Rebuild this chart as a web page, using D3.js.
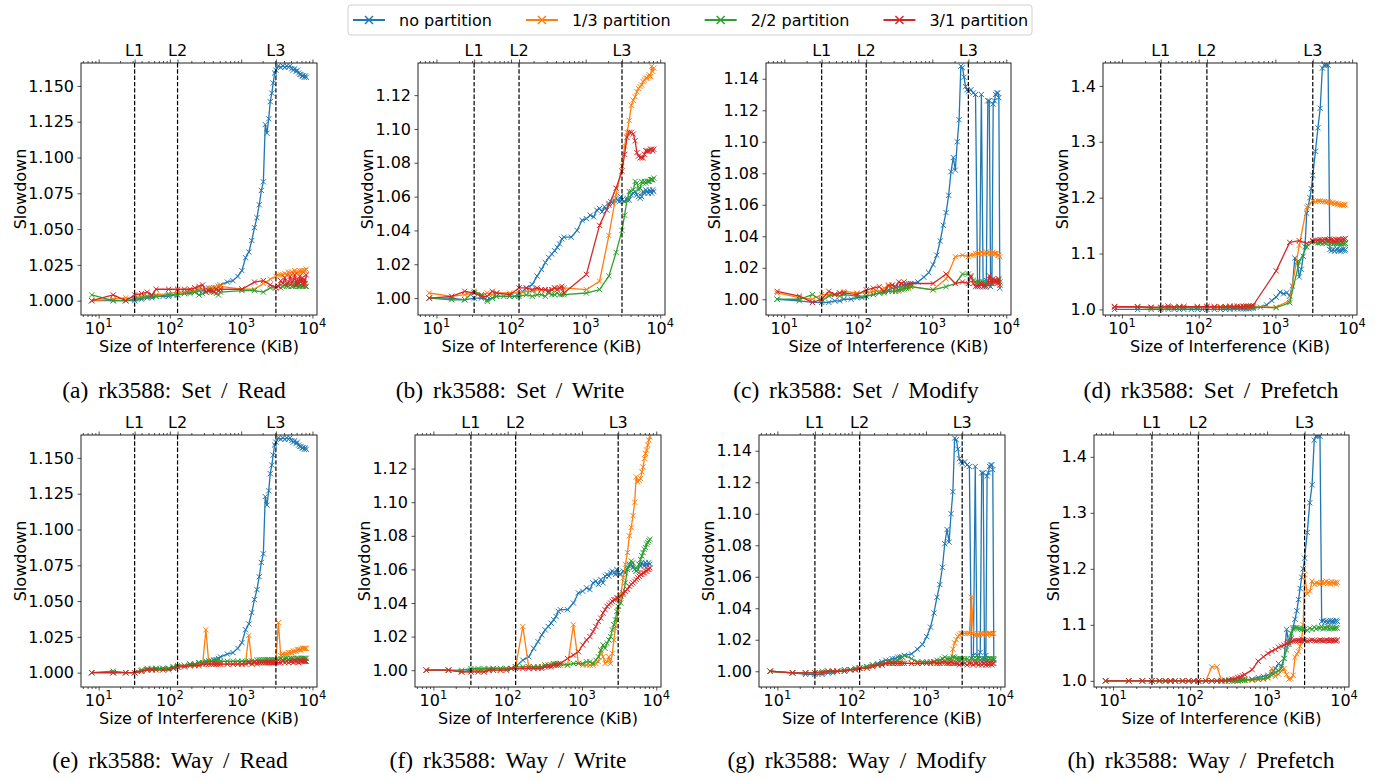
<!DOCTYPE html>
<html><head><meta charset="utf-8">
<script src="https://cdn.jsdelivr.net/npm/d3@7"></script>
<style>body{margin:0;background:#fff}svg{display:block}</style>
</head><body>
<svg id="chart" width="1380" height="781"></svg>
<script>
// ---------------- DATA ----------------
const xDense = [8,16,24,32,40,48,56,64,80,96,112,128,160,192,224,256,288,320,352,384,416,448,480,512,640,768,896,
 1024,1152,1280,1408,1536,1664,1792,1920,2048,2176,2304,2432,2560,2688,2816,2944,3072,
 3328,3584,3840,4096,4352,4608,4864,5120,5376,5632,5888,6144,6400,6656,6912,7168,7424,7680,7936,8192];
const xSparse = [8,16,24,32,40,48,56,64,96,128,160,192,224,256,288,320,352,384,416,448,480,512,
 1024,1536,2048,2560,3072,
 3328,3584,3840,4096,4352,4608,4864,5120,5376,5632,5888,6144,6400,6656,6912,7168,7424,7680,7936,8192];

const seriesNames = ["no partition","1/3 partition","2/2 partition","3/1 partition"];
const cacheLabels = ["L1","L2","L3"];
const cacheSizes = [32,128,3072];
const xTickValues = [10,100,1000,10000];

// (a) Set / Read
const setReadNone = [1.000,1.000,1.000,1.000,1.001,1.002,1.002,1.003,
 1.003,1.003,1.004,1.004,
 1.005,1.006,1.006,1.007,1.007,1.008,1.008,1.008,1.009,1.009,1.010,1.011,
 1.013,1.014,1.017,
 1.021,1.030,1.034,1.042,1.051,1.058,1.067,1.077,1.083,1.123,1.117,1.127,1.139,1.145,1.152,1.159,1.161,
 1.164,1.163,1.164,1.163,1.164,1.163,1.164,1.162,1.161,1.162,1.160,1.161,1.159,1.158,1.158,1.157,1.157,1.156,1.157,1.156];
const setReadP13 = [1.000,1.001,1.002,1.002,1.003,1.003,1.004,1.004,
 1.005,1.006,
 1.006,1.007,1.007,1.008,1.008,1.008,1.009,1.009,1.009,1.009,1.010,1.010,
 1.008,1.008,1.012,1.015,
 1.017,
 1.018,1.018,1.018,1.019,1.018,1.020,1.019,1.020,1.019,1.021,1.019,1.020,1.020,1.021,1.020,1.021,1.020,1.021,1.021,1.022];
const setReadP22 = [1.004,1.000,1.000,1.001,1.002,1.003,1.003,1.003,
 1.004,1.004,
 1.005,1.005,1.006,1.004,1.005,1.006,1.007,1.006,1.006,1.005,1.004,1.006,
 1.007,1.007,1.006,1.009,
 1.009,
 1.010,1.009,1.010,1.011,1.010,1.010,1.011,1.010,1.010,1.011,1.010,1.011,1.010,1.010,1.011,1.010,1.010,1.011,1.010,1.010];
const setReadP31 = [1.000,1.004,1.000,1.004,1.005,1.006,1.004,1.008,
 1.008,1.008,
 1.008,1.008,1.009,1.010,1.011,1.006,1.007,1.007,1.006,1.008,1.007,1.008,
 1.008,1.013,1.014,1.011,
 1.009,
 1.010,1.014,1.012,1.016,1.011,1.013,1.017,1.012,1.014,1.018,1.011,1.015,1.012,1.017,1.013,1.016,1.011,1.015,1.012,1.018];

// (b) Set / Write
const setWriteNone = [1.000,1.000,0.999,1.000,1.000,0.999,1.000,1.001,
 1.001,1.001,1.001,1.002,
 1.006,1.008,1.013,1.017,1.021,1.024,1.026,1.028,1.030,1.032,1.035,1.036,
 1.036,1.040,1.046,
 1.047,1.049,1.048,1.052,1.053,1.051,1.054,1.052,1.056,1.057,1.056,1.058,1.059,1.058,1.057,1.060,1.058,
 1.057,1.059,1.058,1.061,1.062,1.063,1.061,1.060,1.059,1.060,1.063,1.062,1.064,1.063,1.062,1.064,1.063,1.062,1.064,1.063];
const setWriteP13 = [1.003,1.001,1.002,1.003,1.002,1.003,1.002,1.003,
 1.003,1.003,
 1.004,1.004,1.005,1.005,1.005,1.005,1.005,1.006,1.006,1.006,1.006,1.006,
 1.005,1.010,1.037,1.061,
 1.078,
 1.090,1.098,1.105,1.114,1.117,1.119,1.122,1.124,1.125,1.126,1.128,1.129,1.130,1.130,1.131,1.132,1.131,1.137,1.134,1.136];
const setWriteP22 = [1.000,0.999,0.999,1.004,1.002,0.998,1.000,1.001,
 1.001,1.001,
 1.002,1.001,1.002,1.002,1.001,1.003,1.002,1.002,1.003,1.002,1.002,1.002,
 1.003,1.005,1.013,1.027,
 1.040,
 1.049,1.058,1.063,1.063,1.064,1.069,1.068,1.064,1.065,1.069,1.068,1.069,1.068,1.069,1.069,1.069,1.070,1.070,1.070,1.071];
const setWriteP31 = [1.000,1.001,1.004,1.003,1.001,1.001,1.004,1.003,
 1.002,1.006,
 1.006,1.005,1.006,1.005,1.005,1.004,1.005,1.006,1.005,1.006,1.007,1.003,
 1.014,1.043,1.055,1.065,
 1.075,
 1.085,1.095,1.098,1.098,1.097,1.093,1.086,1.084,1.083,1.083,1.083,1.085,1.087,1.087,1.087,1.087,1.088,1.088,1.087,1.088];

// (c) Set / Modify
const setModNone = [1.000,0.999,0.998,0.998,0.998,0.999,0.999,1.000,
 1.000,1.001,1.001,1.002,
 1.003,1.004,1.005,1.006,1.007,1.007,1.008,1.008,1.009,1.009,1.009,1.010,
 1.011,1.014,1.017,
 1.022,1.028,1.037,1.047,1.055,1.066,1.081,1.090,1.082,1.100,1.114,1.148,1.147,1.141,1.135,1.133,1.132,
 1.133,1.131,1.130,1.008,1.010,1.130,1.010,1.008,1.012,1.126,1.126,1.008,1.010,1.124,1.126,1.130,1.131,1.131,1.128,1.007];
const setModP13 = [1.004,1.001,1.000,1.003,1.003,1.003,1.004,1.005,
 1.004,1.004,
 1.005,1.005,1.007,1.008,1.009,1.006,1.005,1.007,1.006,1.007,1.008,1.008,
 1.006,1.013,1.027,1.028,
 1.027,
 1.028,1.028,1.029,1.029,1.029,1.030,1.029,1.029,1.030,1.029,1.030,1.029,1.029,1.030,1.029,1.029,1.029,1.028,1.028,1.027];
const setModP22 = [1.000,1.000,1.003,0.999,1.002,1.003,1.002,1.003,
 1.002,1.002,
 1.003,1.004,1.004,1.005,1.005,1.005,1.006,1.006,1.007,1.007,1.007,1.008,
 1.006,1.008,1.010,1.016,
 1.016,
 1.014,1.012,1.011,1.011,1.011,1.010,1.011,1.010,1.011,1.010,1.011,1.010,1.012,1.011,1.011,1.012,1.011,1.011,1.012,1.011];
const setModP31 = [1.005,1.002,0.998,1.000,1.005,1.003,1.004,1.004,
 1.003,1.006,
 1.007,1.008,1.005,1.009,1.009,1.008,1.011,1.010,1.011,1.009,1.010,1.010,
 1.010,1.016,1.010,1.011,
 1.010,
 1.015,1.010,1.008,1.009,1.008,1.010,1.008,1.009,1.008,1.009,1.015,1.012,1.010,1.013,1.012,1.011,1.012,1.010,1.013,1.009];

// (d) Set / Prefetch
const setPfNone = [1.000,1.000,1.000,1.000,1.000,1.000,1.000,1.000,
 1.000,1.000,1.000,1.000,
 1.000,1.000,1.000,1.000,1.001,1.001,1.001,1.001,1.001,1.001,1.002,1.002,
 1.004,1.008,1.016,
 1.022,1.031,1.028,1.030,1.024,1.042,1.092,1.085,1.058,1.072,1.095,1.112,1.172,1.185,1.200,1.216,1.240,
 1.283,1.325,1.360,1.432,1.437,1.437,1.437,1.107,1.105,1.107,1.104,1.106,1.108,1.105,1.107,1.104,1.106,1.108,1.105,1.107];
const setPfP13 = [1.005,1.004,1.003,1.003,1.005,1.004,1.004,1.005,
 1.004,1.005,
 1.004,1.005,1.004,1.006,1.005,1.004,1.005,1.006,1.005,1.005,1.004,1.005,
 1.004,1.016,1.115,1.183,
 1.194,
 1.193,1.194,1.194,1.193,1.193,1.192,1.193,1.192,1.190,1.191,1.189,1.190,1.188,1.189,1.187,1.188,1.187,1.186,1.188,1.187];
const setPfP22 = [1.004,1.004,1.003,1.003,1.003,1.003,1.004,1.003,
 1.003,1.004,
 1.003,1.004,1.003,1.004,1.004,1.003,1.004,1.004,1.003,1.004,1.004,1.004,
 1.003,1.012,1.085,1.112,
 1.121,
 1.120,1.119,1.119,1.118,1.119,1.118,1.120,1.118,1.119,1.117,1.118,1.119,1.117,1.118,1.118,1.117,1.119,1.118,1.117,1.118];
const setPfP31 = [1.005,1.005,1.004,1.004,1.006,1.004,1.005,1.005,
 1.005,1.005,
 1.005,1.004,1.005,1.005,1.005,1.006,1.005,1.005,1.006,1.006,1.006,1.007,
 1.069,1.120,1.123,1.118,
 1.123,
 1.124,1.124,1.125,1.124,1.125,1.125,1.124,1.126,1.125,1.124,1.123,1.125,1.124,1.126,1.125,1.123,1.125,1.126,1.125,1.127];

// (e) Way / Read
const wayReadNone = setReadNone;
const wayReadP13 = [1.000,1.000,1.000,1.000,1.001,1.002,1.002,1.002,
 1.002,1.003,1.003,1.004,
 1.005,1.005,1.005,1.006,1.006,1.030,1.006,1.006,1.006,1.006,1.006,1.006,
 1.006,1.006,1.006,
 1.006,1.007,1.026,1.007,1.007,1.006,1.007,1.007,1.007,1.007,1.007,1.007,1.007,1.007,1.007,1.008,1.008,
 1.035,1.012,1.013,1.013,1.013,1.014,1.014,1.014,1.015,1.015,1.015,1.016,1.016,1.016,1.016,1.017,1.017,1.017,1.017,1.017];
const wayReadP22 = [1.000,1.001,1.000,1.000,1.002,1.003,1.003,1.003,
 1.003,1.003,1.004,1.005,
 1.005,1.006,1.006,1.007,1.007,1.007,1.008,1.008,1.008,1.009,1.009,1.008,
 1.008,1.008,1.008,
 1.008,1.008,1.008,1.008,1.008,1.009,1.009,1.009,1.009,1.009,1.009,1.009,1.009,1.009,1.009,1.009,1.009,
 1.009,1.010,1.009,1.010,1.010,1.009,1.010,1.010,1.010,1.009,1.010,1.010,1.010,1.009,1.010,1.010,1.010,1.010,1.010,1.010];
const wayReadP31 = [1.000,1.000,1.000,1.000,1.001,1.002,1.002,1.002,
 1.002,1.002,1.003,1.004,
 1.004,1.005,1.005,1.005,1.006,1.006,1.006,1.006,1.006,1.006,1.006,1.006,
 1.006,1.006,1.006,
 1.006,1.006,1.007,1.006,1.007,1.007,1.007,1.007,1.007,1.007,1.007,1.007,1.007,1.007,1.007,1.007,1.007,
 1.007,1.007,1.008,1.007,1.008,1.007,1.008,1.008,1.007,1.008,1.008,1.008,1.007,1.008,1.008,1.008,1.008,1.008,1.008,1.008];

// (f) Way / Write
const wayWriteNone = setWriteNone;
const wayWriteP13 = [1.000,1.000,0.999,0.999,1.000,1.000,1.000,1.000,
 1.000,1.001,1.001,1.002,
 1.026,1.002,1.002,1.002,1.002,1.003,1.003,1.003,1.003,1.003,1.003,1.003,
 1.003,1.027,1.004,
 1.003,1.003,1.003,1.003,1.004,1.005,1.012,1.008,1.004,1.005,1.008,1.004,1.010,1.018,1.025,1.030,1.036,
 1.045,1.055,1.063,1.070,1.080,1.085,1.092,1.100,1.115,1.112,1.113,1.114,1.118,1.121,1.126,1.129,1.131,1.134,1.137,1.139];
const wayWriteP22 = [1.000,1.000,1.000,1.001,1.001,1.001,1.001,1.001,
 1.001,1.001,1.001,1.002,
 1.002,1.002,1.002,1.002,1.002,1.003,1.003,1.003,1.004,1.004,1.004,1.004,
 1.003,1.004,1.004,
 1.004,1.005,1.005,1.004,1.006,1.008,1.012,1.015,1.013,1.016,1.018,1.020,1.024,1.027,1.030,1.035,1.038,
 1.040,1.045,1.052,1.060,1.063,1.065,1.064,1.060,1.059,1.060,1.063,1.066,1.068,1.070,1.072,1.073,1.075,1.076,1.077,1.078];
const wayWriteP31 = [1.000,1.000,0.999,0.999,0.999,0.999,1.000,1.000,
 1.000,1.000,1.001,1.001,
 1.001,1.001,1.001,1.001,1.001,1.002,1.002,1.002,1.003,1.003,1.003,1.004,
 1.007,1.009,1.011,
 1.015,1.018,1.020,1.023,1.026,1.029,1.031,1.034,1.036,1.038,1.039,1.040,1.041,1.042,1.042,1.043,1.043,
 1.044,1.046,1.047,1.048,1.050,1.051,1.052,1.053,1.054,1.055,1.056,1.057,1.057,1.058,1.058,1.059,1.059,1.060,1.060,1.061];

// (g) Way / Modify
const wayModNone = setModNone;
const wayModP13 = [1.000,0.999,0.999,0.999,0.999,1.000,1.000,1.000,
 1.001,1.001,1.001,1.002,
 1.002,1.003,1.004,1.004,1.005,1.005,1.005,1.005,1.005,1.005,1.005,1.005,
 1.005,1.005,1.005,
 1.005,1.005,1.005,1.005,1.005,1.005,1.005,1.005,1.005,1.005,1.014,1.018,1.020,1.022,1.023,1.024,1.024,
 1.024,1.024,1.024,1.047,1.024,1.023,1.023,1.023,1.024,1.024,1.023,1.024,1.024,1.023,1.024,1.024,1.024,1.023,1.024,1.024];
const wayModP22 = [1.000,0.999,0.999,0.999,1.000,1.000,1.000,1.000,
 1.001,1.001,1.002,1.002,
 1.003,1.004,1.004,1.005,1.005,1.006,1.006,1.006,1.007,1.008,1.009,1.010,
 1.008,1.006,1.006,
 1.006,1.006,1.006,1.007,1.007,1.008,1.009,1.008,1.008,1.008,1.009,1.009,1.008,1.008,1.008,1.008,1.008,
 1.008,1.008,1.007,1.008,1.008,1.007,1.008,1.008,1.007,1.008,1.008,1.007,1.008,1.008,1.007,1.008,1.008,1.007,1.008,1.008];
const wayModP31 = [1.000,0.999,0.999,0.999,0.999,1.000,1.000,1.000,
 1.000,1.001,1.001,1.002,
 1.002,1.003,1.004,1.004,1.005,1.005,1.005,1.005,1.005,1.005,1.005,1.005,
 1.005,1.005,1.005,
 1.005,1.005,1.006,1.005,1.005,1.006,1.006,1.005,1.005,1.006,1.005,1.005,1.005,1.005,1.004,1.005,1.005,
 1.005,1.004,1.005,1.005,1.004,1.005,1.005,1.004,1.005,1.004,1.005,1.005,1.004,1.005,1.004,1.005,1.005,1.004,1.005,1.005];

// (h) Way / Prefetch
const wayPfNone = [1.000,1.000,1.000,1.000,1.000,1.000,1.000,1.000,
 1.000,1.000,1.000,1.000,
 1.000,1.000,1.000,1.000,1.000,1.000,1.000,1.001,1.001,1.001,1.002,1.002,
 1.003,1.006,1.008,
 1.010,1.014,1.022,1.031,1.026,1.040,1.092,1.065,1.075,1.095,1.110,1.125,1.145,1.165,1.185,1.200,1.219,
 1.265,1.318,1.350,1.430,1.437,1.438,1.437,1.106,1.108,1.105,1.107,1.104,1.106,1.108,1.105,1.107,1.104,1.106,1.108,1.106];
const wayPfP13 = [1.000,1.000,1.000,1.000,1.000,1.000,1.000,1.000,
 1.000,1.000,1.000,1.000,
 1.000,1.025,1.025,1.001,1.000,1.000,1.000,1.001,1.000,1.001,1.001,1.001,
 1.001,1.002,1.003,
 1.005,1.022,1.008,1.012,1.018,1.022,1.011,1.003,1.004,1.010,1.042,1.048,1.052,1.062,1.075,1.100,1.190,
 1.155,1.160,1.178,1.172,1.175,1.174,1.173,1.176,1.174,1.175,1.178,1.174,1.176,1.173,1.177,1.175,1.174,1.176,1.173,1.176];
const wayPfP22 = [1.000,1.000,1.000,1.000,1.000,1.000,1.000,1.000,
 1.000,1.000,1.000,1.000,
 1.000,1.000,1.000,1.000,1.000,1.000,1.000,1.000,1.000,1.001,1.001,1.001,
 1.002,1.003,1.004,
 1.006,1.010,1.015,1.018,1.022,1.040,1.055,1.070,1.085,1.092,1.095,1.095,1.094,1.093,1.092,1.092,1.092,
 1.090,1.094,1.092,1.096,1.093,1.095,1.094,1.097,1.093,1.095,1.094,1.096,1.093,1.095,1.094,1.095,1.093,1.094,1.095,1.094];
const wayPfP31 = [1.000,1.000,1.000,1.000,1.000,1.000,1.000,1.000,
 1.000,1.000,1.000,1.000,
 1.000,1.000,1.000,1.000,1.001,1.002,1.003,1.004,1.006,1.007,1.009,1.011,
 1.020,1.035,1.043,
 1.049,1.053,1.056,1.060,1.062,1.064,1.066,1.068,1.070,1.071,1.072,1.072,1.072,1.071,1.072,1.073,1.072,
 1.071,1.072,1.073,1.072,1.071,1.072,1.073,1.072,1.071,1.072,1.073,1.072,1.071,1.072,1.073,1.072,1.073,1.072,1.071,1.073];

const captions = ["(a) rk3588: Set / Read","(b) rk3588: Set / Write","(c) rk3588: Set / Modify","(d) rk3588: Set / Prefetch",
 "(e) rk3588: Way / Read","(f) rk3588: Way / Write","(g) rk3588: Way / Modify","(h) rk3588: Way / Prefetch"];
const yTicks3 = [1.000,1.025,1.050,1.075,1.100,1.125,1.150];
const yTicksW = [1.00,1.02,1.04,1.06,1.08,1.10,1.12];
const yTicksM = [1.00,1.02,1.04,1.06,1.08,1.10,1.12,1.14];
const yTicksP = [1.0,1.1,1.2,1.3,1.4];

// ---------------- LAYOUT / STYLE ----------------
const colors = ["#1f77b4","#ff7f0e","#2ca02c","#d62728"];
const FONT = "DejaVu Sans, sans-serif";
const panels = [
 {l:81,  r:317,  t:63, b:315, yd:[0.990,1.166], yt:yTicks3, fmt:".3f", ylx:20,   capX:174,  capY:398,
  s:[[xDense,setReadNone],[xSparse,setReadP13],[xSparse,setReadP22],[xSparse,setReadP31]]},
 {l:418, r:665,  t:63, b:315, yd:[0.990,1.139], yt:yTicksW, fmt:".2f", ylx:367,  capX:510,  capY:398,
  s:[[xDense,setWriteNone],[xSparse,setWriteP13],[xSparse,setWriteP22],[xSparse,setWriteP31]]},
 {l:766, r:1011, t:63, b:315, yd:[0.990,1.150], yt:yTicksM, fmt:".2f", ylx:714,  capX:856,  capY:398,
  s:[[xDense,setModNone],[xSparse,setModP13],[xSparse,setModP22],[xSparse,setModP31]]},
 {l:1103,r:1357, t:63, b:315, yd:[0.990,1.441], yt:yTicksP, fmt:".1f", ylx:1062, capX:1211, capY:398,
  s:[[xDense,setPfNone],[xSparse,setPfP13],[xSparse,setPfP22],[xSparse,setPfP31]]},
 {l:81,  r:317,  t:435,b:687, yd:[0.990,1.166], yt:yTicks3, fmt:".3f", ylx:20,   capX:170,  capY:768,
  s:[[xDense,wayReadNone],[xDense,wayReadP13],[xDense,wayReadP22],[xDense,wayReadP31]]},
 {l:415, r:661,  t:435,b:687, yd:[0.990,1.140], yt:yTicksW, fmt:".2f", ylx:364,  capX:508,  capY:768,
  s:[[xDense,wayWriteNone],[xDense,wayWriteP13],[xDense,wayWriteP22],[xDense,wayWriteP31]]},
 {l:759, r:1005, t:435,b:687, yd:[0.990,1.150], yt:yTicksM, fmt:".2f", ylx:708,  capX:857,  capY:768,
  s:[[xDense,wayModNone],[xDense,wayModP13],[xDense,wayModP22],[xDense,wayModP31]]},
 {l:1094,r:1349, t:435,b:687, yd:[0.989,1.439], yt:yTicksP, fmt:".1f", ylx:1053, capX:1201, capY:768,
  s:[[xDense,wayPfNone],[xDense,wayPfP13],[xDense,wayPfP22],[xDense,wayPfP31]]}
];

const svg = d3.select("#chart");
const xDomain = [8/Math.pow(10,0.1505), 8192*Math.pow(10,0.1505)];
const minorTicks = [];
[1,10,100,1000].forEach(k=>{for(let m=2;m<=9;m++){const v=m*k; if(v>xDomain[0]&&v<xDomain[1]) minorTicks.push(v);}});
const xMark = "M-2.6,-2.6L2.6,2.6M-2.6,2.6L2.6,-2.6";

panels.forEach((p,pi)=>{
  const g = svg.append("g");
  const x = d3.scaleLog().domain(xDomain).range([p.l,p.r]);
  const y = d3.scaleLinear().domain(p.yd).range([p.b,p.t]);
  const cid = "clip"+pi;
  svg.append("clipPath").attr("id",cid).append("rect")
    .attr("x",p.l).attr("y",p.t).attr("width",p.r-p.l).attr("height",p.b-p.t);

  const plot = g.append("g").attr("clip-path",`url(#${cid})`);
  p.s.forEach((ser,si)=>{
    const pts = ser[0].map((xv,i)=>[xv, ser[1][i]]);
    plot.append("path").datum(pts)
      .attr("d", d3.line().x(d=>x(d[0])).y(d=>y(d[1])))
      .attr("fill","none").attr("stroke",colors[si]).attr("stroke-width",1.3)
      .attr("stroke-linejoin","round");
    plot.append("g").selectAll("path").data(pts).join("path")
      .attr("d",xMark).attr("transform",d=>`translate(${x(d[0])},${y(d[1])})`)
      .attr("fill","none").attr("stroke",colors[si]).attr("stroke-width",1);
  });

  g.selectAll("line.cache").data(cacheSizes).join("line")
    .attr("x1",d=>x(d)).attr("x2",d=>x(d)).attr("y1",p.t).attr("y2",p.b)
    .attr("stroke","#000").attr("stroke-width",1.2).attr("stroke-dasharray","4.4,1.9");

  g.append("rect").attr("x",p.l).attr("y",p.t).attr("width",p.r-p.l).attr("height",p.b-p.t)
    .attr("fill","none").attr("stroke","#222").attr("stroke-width",1);

  const bMaj = g.append("g").attr("transform",`translate(0,${p.b})`)
    .call(d3.axisBottom(x).tickValues(xTickValues).tickSize(3.5).tickFormat(""));
  const bMin = g.append("g").attr("transform",`translate(0,${p.b})`)
    .call(d3.axisBottom(x).tickValues(minorTicks).tickSize(2).tickFormat(""));
  const tMaj = g.append("g").attr("transform",`translate(0,${p.t})`)
    .call(d3.axisTop(x).tickValues(xTickValues.concat(cacheSizes)).tickSize(3.5).tickFormat(""));
  const tMin = g.append("g").attr("transform",`translate(0,${p.t})`)
    .call(d3.axisTop(x).tickValues(minorTicks).tickSize(2).tickFormat(""));
  [bMaj,bMin,tMaj,tMin].forEach(a=>{a.select(".domain").remove(); a.selectAll("line").attr("stroke","#222").attr("stroke-width",0.8);});

  xTickValues.forEach(v=>{
    const t = g.append("text").attr("x",x(v)).attr("y",p.b+19).attr("text-anchor","middle")
      .attr("font-family",FONT).attr("font-size",16).attr("fill","#000");
    t.append("tspan").text("10");
    t.append("tspan").attr("dy",-7).attr("font-size",11.5).text(String(Math.round(Math.log10(v))));
  });

  g.selectAll("text.cl").data(cacheSizes).join("text")
    .attr("x",d=>x(d)).attr("y",p.t-7).attr("text-anchor","middle")
    .attr("font-family",FONT).attr("font-size",16).attr("fill","#000")
    .text((d,i)=>cacheLabels[i]);

  const ya = g.append("g").attr("transform",`translate(${p.l},0)`)
    .call(d3.axisLeft(y).tickValues(p.yt).tickFormat(d3.format(p.fmt)).tickSize(3.5).tickPadding(3.5));
  ya.select(".domain").remove();
  ya.selectAll("line").attr("stroke","#222").attr("stroke-width",0.8);
  ya.selectAll("text").attr("font-family",FONT).attr("font-size",16).attr("fill","#000");

  g.append("text").attr("transform",`translate(${p.ylx},${(p.t+p.b)/2}) rotate(-90)`)
    .attr("text-anchor","middle").attr("dominant-baseline","central")
    .attr("font-family",FONT).attr("font-size",16).attr("fill","#000").text("Slowdown");
  g.append("text").attr("x",(p.l+p.r)/2).attr("y",p.b+37).attr("text-anchor","middle")
    .attr("font-family",FONT).attr("font-size",16).attr("fill","#000").text("Size of Interference (KiB)");

  g.append("text").attr("x",p.capX).attr("y",p.capY).attr("text-anchor","middle")
    .attr("font-family","Liberation Serif, Times New Roman, serif").attr("font-size",23.5)
    .attr("word-spacing",4).attr("fill","#000")
    .text(captions[pi]);
});

const lg = svg.append("g");
lg.append("rect").attr("x",348).attr("y",5).attr("width",684).attr("height",30).attr("rx",3)
  .attr("fill","#fff").attr("stroke","#d0d0d0").attr("stroke-width",1);
let lx = 353;
seriesNames.forEach((n,i)=>{
  lg.append("line").attr("x1",lx).attr("x2",lx+32).attr("y1",20).attr("y2",20)
    .attr("stroke",colors[i]).attr("stroke-width",2);
  lg.append("path").attr("d","M-4,-4L4,4M-4,4L4,-4").attr("transform",`translate(${lx+16},20)`)
    .attr("fill","none").attr("stroke",colors[i]).attr("stroke-width",1.5);
  const t = lg.append("text").attr("x",lx+46).attr("y",25.5).attr("font-family",FONT).attr("font-size",16)
    .attr("fill","#000").text(n);
  const w = t.node().getComputedTextLength();
  lx = lx + 46 + w + 34;
});
</script>
</body></html>
